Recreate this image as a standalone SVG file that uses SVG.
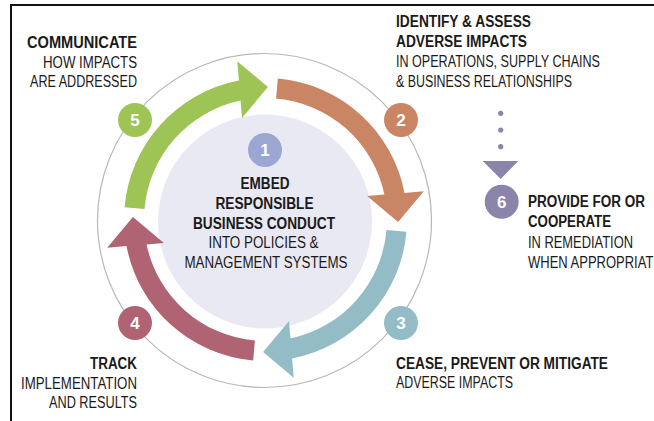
<svg xmlns="http://www.w3.org/2000/svg" xmlns:xlink="http://www.w3.org/1999/xlink" width="654" height="421" viewBox="0 0 654 421">
<style>
text{font-family:"Liberation Sans","Open Sans",sans-serif;font-size:16px;fill:#1a1a1a}
.b{font-weight:700}
.r{font-weight:400}
.num{font-weight:700;fill:#fff;font-size:17px;text-anchor:middle}
.e{text-anchor:end}
.m{text-anchor:middle}
</style>
<defs>
<path id="arr" d="M12.33,-140.96 A141.5,141.5 0 0 1 138.98,-26.60 L158.3,-28.2 L132.6,2.4 L101.6,-23.5 L118.91,-24.94 A121.5,121.5 0 0 0 10.59,-121.04 Z"/>
</defs>
<rect width="654" height="421" fill="#fff"/>
<path d="M11,421 V5 H654" fill="none" stroke="#111" stroke-width="2"/>
<circle cx="264.5" cy="220.5" r="167" fill="none" stroke="#b8b8b8" stroke-width="1.2"/>
<g id="center">
<circle cx="265" cy="221.5" r="107" fill="#e9e9f3"/>
</g>
<g id="connectors">
<g transform="translate(265.5,219.5)">
<use xlink:href="#arr" fill="#c98564"/>
<use xlink:href="#arr" fill="#94bcc7" transform="rotate(90)"/>
<use xlink:href="#arr" fill="#b06373" transform="rotate(180)"/>
<use xlink:href="#arr" fill="#9dc455" transform="rotate(-90)"/>
</g>
<g fill="#8b84ab">
<circle cx="500.7" cy="113.3" r="2.6"/>
<circle cx="500.7" cy="130" r="2.6"/>
<circle cx="500.7" cy="146.7" r="2.6"/>
<path d="M482.7,161 L518.3,161 L500.7,179 Z"/>
</g>
</g>
<g id="step1">
<circle cx="265" cy="150" r="17" fill="#9ba7d2"/>
<text class="num" x="265" y="156">1</text>
<text class="b m" x="265" y="189.3" textLength="49" lengthAdjust="spacingAndGlyphs">EMBED</text>
<text class="b m" x="264.5" y="209.3" textLength="98" lengthAdjust="spacingAndGlyphs">RESPONSIBLE</text>
<text class="b m" x="264" y="229" textLength="142" lengthAdjust="spacingAndGlyphs">BUSINESS CONDUCT</text>
<text class="r m" x="263.5" y="248.3" textLength="110" lengthAdjust="spacingAndGlyphs">INTO POLICIES &amp;</text>
<text class="r m" x="266" y="268.3" textLength="163" lengthAdjust="spacingAndGlyphs">MANAGEMENT SYSTEMS</text>
</g>
<g id="step2">
<circle cx="401" cy="120" r="17" fill="#c98564"/>
<text class="num" x="401" y="126">2</text>
<text class="b" x="396" y="27" textLength="135" lengthAdjust="spacingAndGlyphs">IDENTIFY &amp; ASSESS</text>
<text class="b" x="396" y="47" textLength="131" lengthAdjust="spacingAndGlyphs">ADVERSE IMPACTS</text>
<text class="r" font-size="15" transform="translate(396,67) scale(1,1.0667)" textLength="204" lengthAdjust="spacingAndGlyphs">IN OPERATIONS, SUPPLY CHAINS</text>
<text class="r" x="396" y="87" textLength="176" lengthAdjust="spacingAndGlyphs">&amp; BUSINESS RELATIONSHIPS</text>
</g>
<g id="step3">
<circle cx="401" cy="323" r="17" fill="#94bcc7"/>
<text class="num" x="401" y="329">3</text>
<text class="b" x="396" y="369" textLength="212" lengthAdjust="spacingAndGlyphs">CEASE, PREVENT OR MITIGATE</text>
<text class="r" x="396" y="388" textLength="117" lengthAdjust="spacingAndGlyphs">ADVERSE IMPACTS</text>
</g>
<g id="step4">
<circle cx="135" cy="323" r="17" fill="#b06373"/>
<text class="num" x="135" y="329">4</text>
<text class="b e" x="137" y="369.3" textLength="47" lengthAdjust="spacingAndGlyphs">TRACK</text>
<text class="r e" x="137" y="389" textLength="116" lengthAdjust="spacingAndGlyphs">IMPLEMENTATION</text>
<text class="r e" x="137" y="408.3" textLength="88" lengthAdjust="spacingAndGlyphs">AND RESULTS</text>
</g>
<g id="step5">
<circle cx="135" cy="120" r="17" fill="#9dc455"/>
<text class="num" x="135" y="126">5</text>
<text class="b e" x="137" y="48" textLength="110" lengthAdjust="spacingAndGlyphs">COMMUNICATE</text>
<text class="r e" x="137" y="68" textLength="94" lengthAdjust="spacingAndGlyphs">HOW IMPACTS</text>
<text class="r e" x="137" y="87.3" textLength="107" lengthAdjust="spacingAndGlyphs">ARE ADDRESSED</text>
</g>
<g id="step6">
<circle cx="501.7" cy="201.7" r="17" fill="#8b84ab"/>
<text class="num" x="501.7" y="207.7">6</text>
<text class="b" x="528" y="207.3" textLength="117" lengthAdjust="spacingAndGlyphs">PROVIDE FOR OR</text>
<text class="b" x="528" y="227" textLength="83" lengthAdjust="spacingAndGlyphs">COOPERATE</text>
<text class="r" x="528" y="248.3" textLength="105" lengthAdjust="spacingAndGlyphs">IN REMEDIATION</text>
<text class="r" x="528" y="268" textLength="134" lengthAdjust="spacingAndGlyphs">WHEN APPROPRIATE</text>
</g>
</svg>
